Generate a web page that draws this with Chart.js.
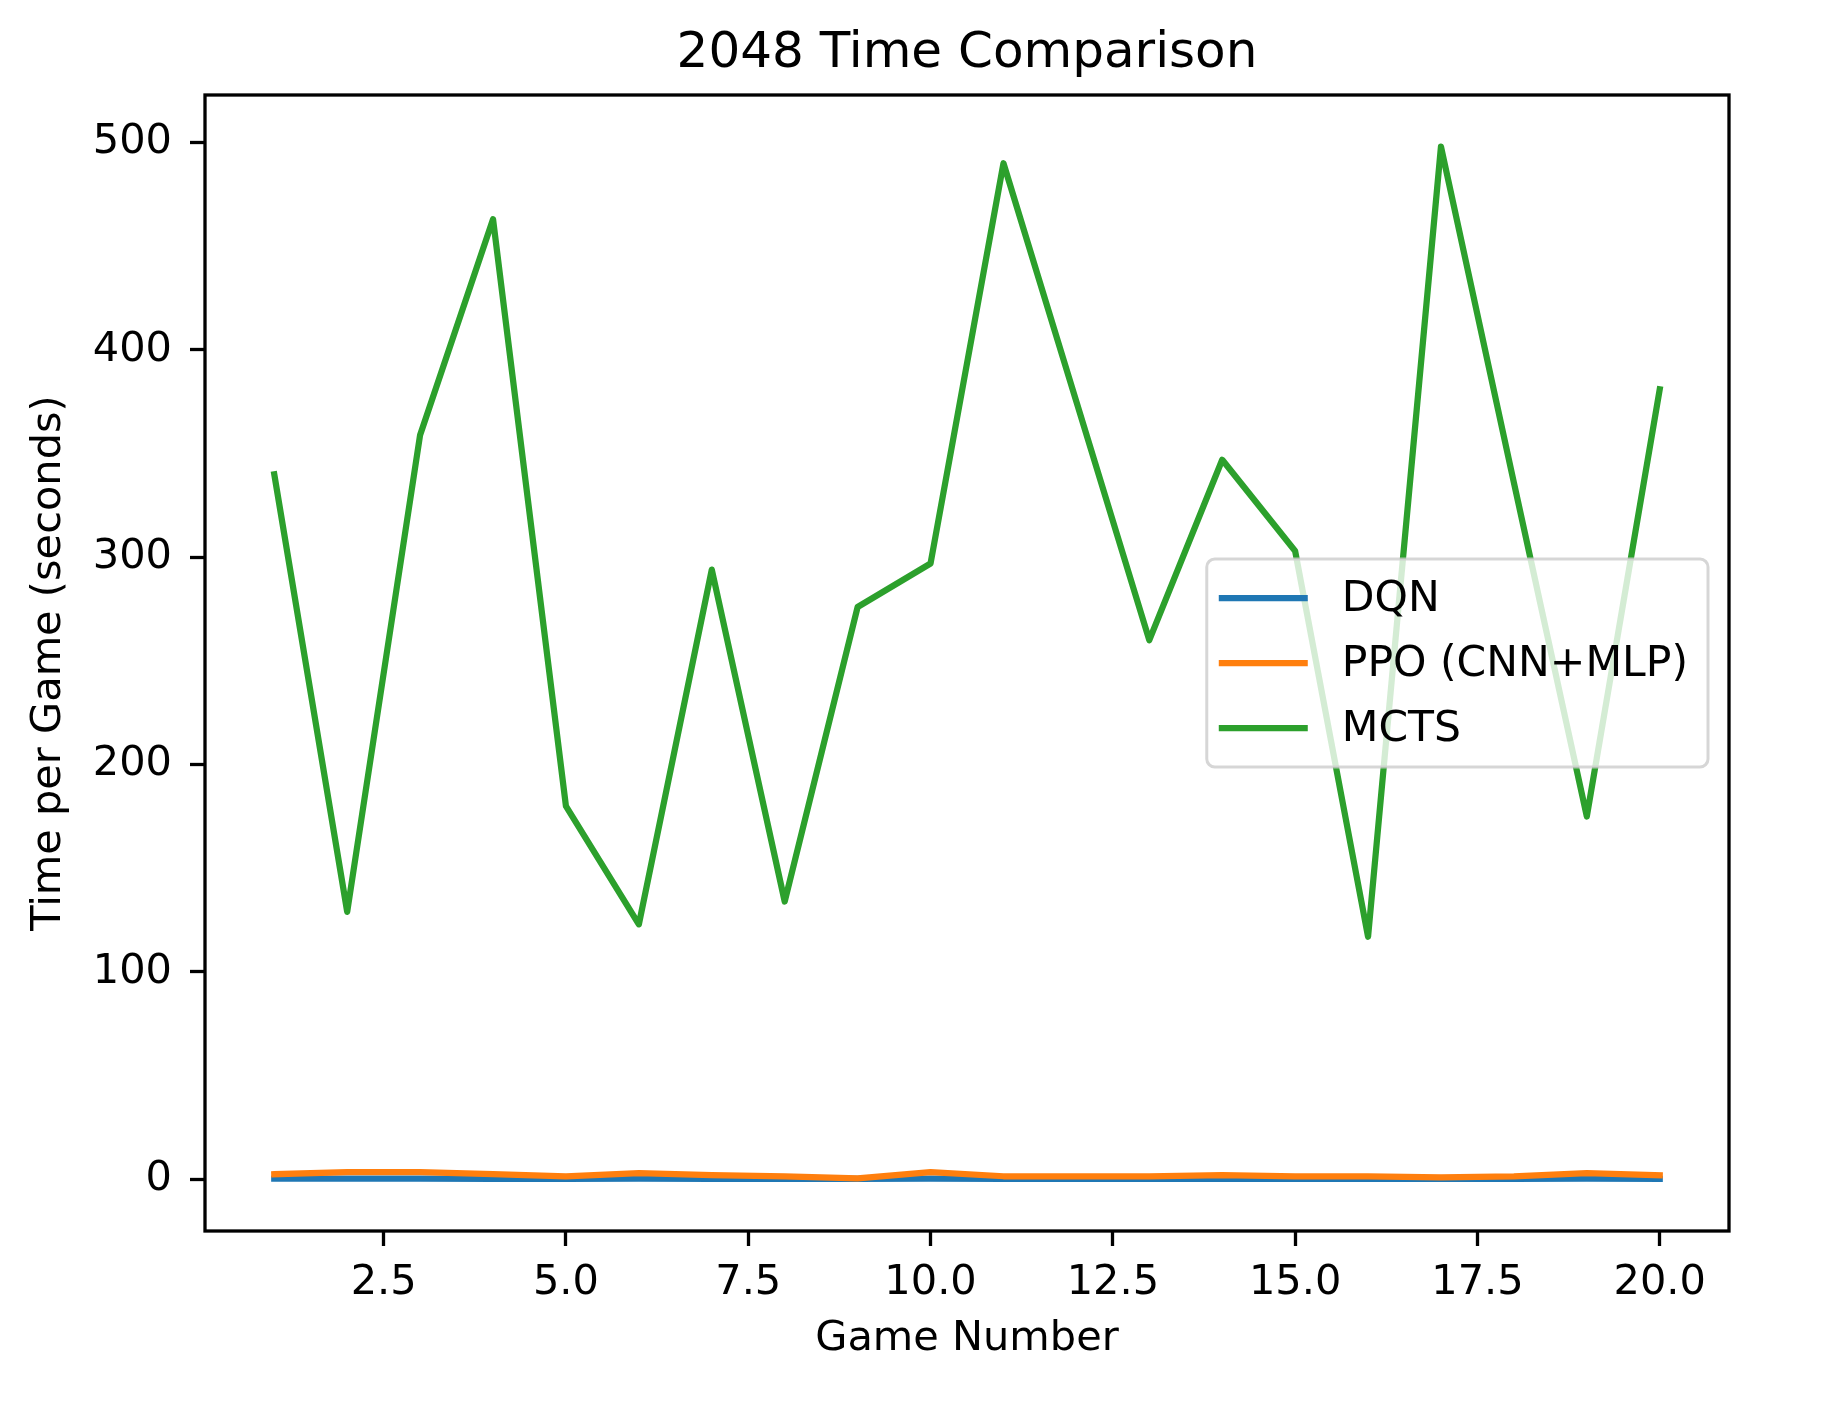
<!DOCTYPE html>
<html>
<head>
<meta charset="utf-8">
<script src="https://cdn.jsdelivr.net/npm/chart.js@4.4.1/dist/chart.umd.min.js"></script>
<style>
  html, body { margin: 0; padding: 0; background: #fff; }
  canvas { display: block; }
</style>
</head>
<body>
<canvas id="chart-item" width="1842" height="1404"></canvas>
<script>
// Data
var games = [1, 2, 3, 4, 5, 6, 7, 8, 9, 10, 11, 12, 13, 14, 15, 16, 17, 18, 19, 20]
var dqnTimes = [0.3, 0.3, 0.3, 0.2, 0.2, 0.3, 0.2, 0.2, 0.2, 0.3, 0.2, 0.2, 0.2, 0.2, 0.2, 0.2, 0.2, 0.2, 0.3, 0.2]
var ppoTimes = [2.5, 3.5, 3.5, 2.5, 1.5, 3, 2, 1.5, 0.5, 3.5, 1.5, 1.5, 1.5, 2, 1.5, 1.5, 1, 1.5, 3, 2]
var mctsTimes = [340, 129, 359, 463, 180, 123, 294, 134, 276, 297, 490, 375, 260, 347, 303, 117, 498, 336, 175, 381]
var xTicks = [2.5, 5.0, 7.5, 10.0, 12.5, 15.0, 17.5, 20.0]
var yTicks = [0, 100, 200, 300, 400, 500]

var FONT = 'DejaVu Sans'
var TICK_SIZE = 41.5
var LEGEND_SIZE = 42.5

function toPoints(values) {
    return games.map(function (g, i) {
        return { x: g, y: values[i] }
    })
}

// matplotlib style frame around the axes
var framePlugin = {
    id: 'frame',
    afterDatasetsDraw: function (chart) {
        var a = chart.chartArea
        var ctx = chart.ctx
        ctx.save()
        ctx.strokeStyle = '#000'
        ctx.lineWidth = 3.3
        ctx.strokeRect(a.left, a.top, a.right - a.left, a.bottom - a.top)
        ctx.restore()
    }
}

// legend box at "center right" inside the axes
var legendPlugin = {
    id: 'mplLegend',
    afterDatasetsDraw: function (chart) {
        var a = chart.chartArea
        var ctx = chart.ctx
        var padL = 12, padR = 20, padV = 17, handle = 89, textPad = 34, rowH = 44, gap = 21
        var sets = chart.data.datasets
        ctx.save()
        ctx.font = LEGEND_SIZE + 'px "' + FONT + '"'
        var textW = 0
        sets.forEach(function (ds) {
            textW = Math.max(textW, ctx.measureText(ds.label).width)
        })
        var w = padL + handle + textPad + textW + padR
        var h = padV * 2 + sets.length * rowH + (sets.length - 1) * gap
        var right = a.right - 21
        var left = right - w
        var top = (a.top + a.bottom) / 2 - h / 2

        ctx.beginPath()
        ctx.roundRect(left, top, w, h, 8)
        ctx.fillStyle = 'rgba(255,255,255,0.8)'
        ctx.fill()
        ctx.strokeStyle = 'rgba(204,204,204,0.8)'
        ctx.lineWidth = 3
        ctx.stroke()

        sets.forEach(function (ds, i) {
            var cy = top + padV + rowH / 2 + i * (rowH + gap)
            ctx.beginPath()
            ctx.moveTo(left + padL, cy)
            ctx.lineTo(left + padL + handle, cy)
            ctx.strokeStyle = ds.borderColor
            ctx.lineWidth = ds.borderWidth
            ctx.lineCap = 'butt'
            ctx.stroke()
            ctx.fillStyle = '#000'
            ctx.textAlign = 'left'
            ctx.textBaseline = 'middle'
            ctx.fillText(ds.label, left + padL + handle + textPad, cy + 2)
        })
        ctx.restore()
    }
}

var lineStyle = {
    pointRadius: 0,
    borderWidth: 6.25,
    tension: 0,
    fill: false,
    borderCapStyle: 'square',
    borderJoinStyle: 'round'
}

const ctx = document.getElementById('chart-item').getContext('2d')
const myChart = new Chart(ctx, {
    type: 'line',
    data: {
        datasets: [
            Object.assign({ label: 'DQN', data: toPoints(dqnTimes), borderColor: '#1f77b4', order: 3 }, lineStyle),
            Object.assign({ label: 'PPO (CNN+MLP)', data: toPoints(ppoTimes), borderColor: '#ff7f0e', order: 2 }, lineStyle),
            Object.assign({ label: 'MCTS', data: toPoints(mctsTimes), borderColor: '#2ca02c', order: 1 }, lineStyle)
        ]
    },
    plugins: [framePlugin, legendPlugin],
    options: {
        responsive: false,
        animation: false,
        devicePixelRatio: 1,
        layout: { padding: { left: 0, right: 113, top: 0, bottom: 0 } },
        plugins: {
            legend: { display: false },
            tooltip: { enabled: false },
            title: {
                display: true,
                text: '2048 Time Comparison',
                color: '#000',
                fullSize: false,
                font: { family: FONT, size: 50, weight: 'normal', lineHeight: 1.2 },
                padding: { top: 24, bottom: 11 }
            }
        },
        scales: {
            x: {
                type: 'linear',
                min: 0.05,
                max: 20.95,
                afterBuildTicks: function (scale) {
                    scale.ticks = xTicks.map(function (v) { return { value: v } })
                },
                afterFit: function (scale) { scale.height = 173 },
                border: { display: false },
                grid: { drawOnChartArea: false, drawTicks: true, tickLength: 15, tickWidth: 3.3, tickColor: '#000' },
                ticks: {
                    autoSkip: false,
                    maxRotation: 0,
                    padding: 12,
                    color: '#000',
                    font: { family: FONT, size: TICK_SIZE },
                    callback: function (v) { return Number(v).toFixed(1) }
                },
                title: {
                    display: true,
                    text: 'Game Number',
                    color: '#000',
                    font: { family: FONT, size: TICK_SIZE, lineHeight: 1.2 },
                    padding: { top: 0, bottom: 40 }
                }
            },
            y: {
                type: 'linear',
                min: -24.9,
                max: 522.9,
                afterBuildTicks: function (scale) {
                    scale.ticks = yTicks.map(function (v) { return { value: v } })
                },
                afterFit: function (scale) { scale.width = 205 },
                border: { display: false },
                grid: { drawOnChartArea: false, drawTicks: true, tickLength: 15, tickWidth: 3.3, tickColor: '#000' },
                ticks: {
                    padding: 18,
                    color: '#000',
                    font: { family: FONT, size: TICK_SIZE }
                },
                title: {
                    display: true,
                    text: 'Time per Game (seconds)',
                    color: '#000',
                    font: { family: FONT, size: TICK_SIZE, lineHeight: 1.2 },
                    padding: { top: 24, bottom: 0 }
                }
            }
        }
    }
})
</script>
</body>
</html>
